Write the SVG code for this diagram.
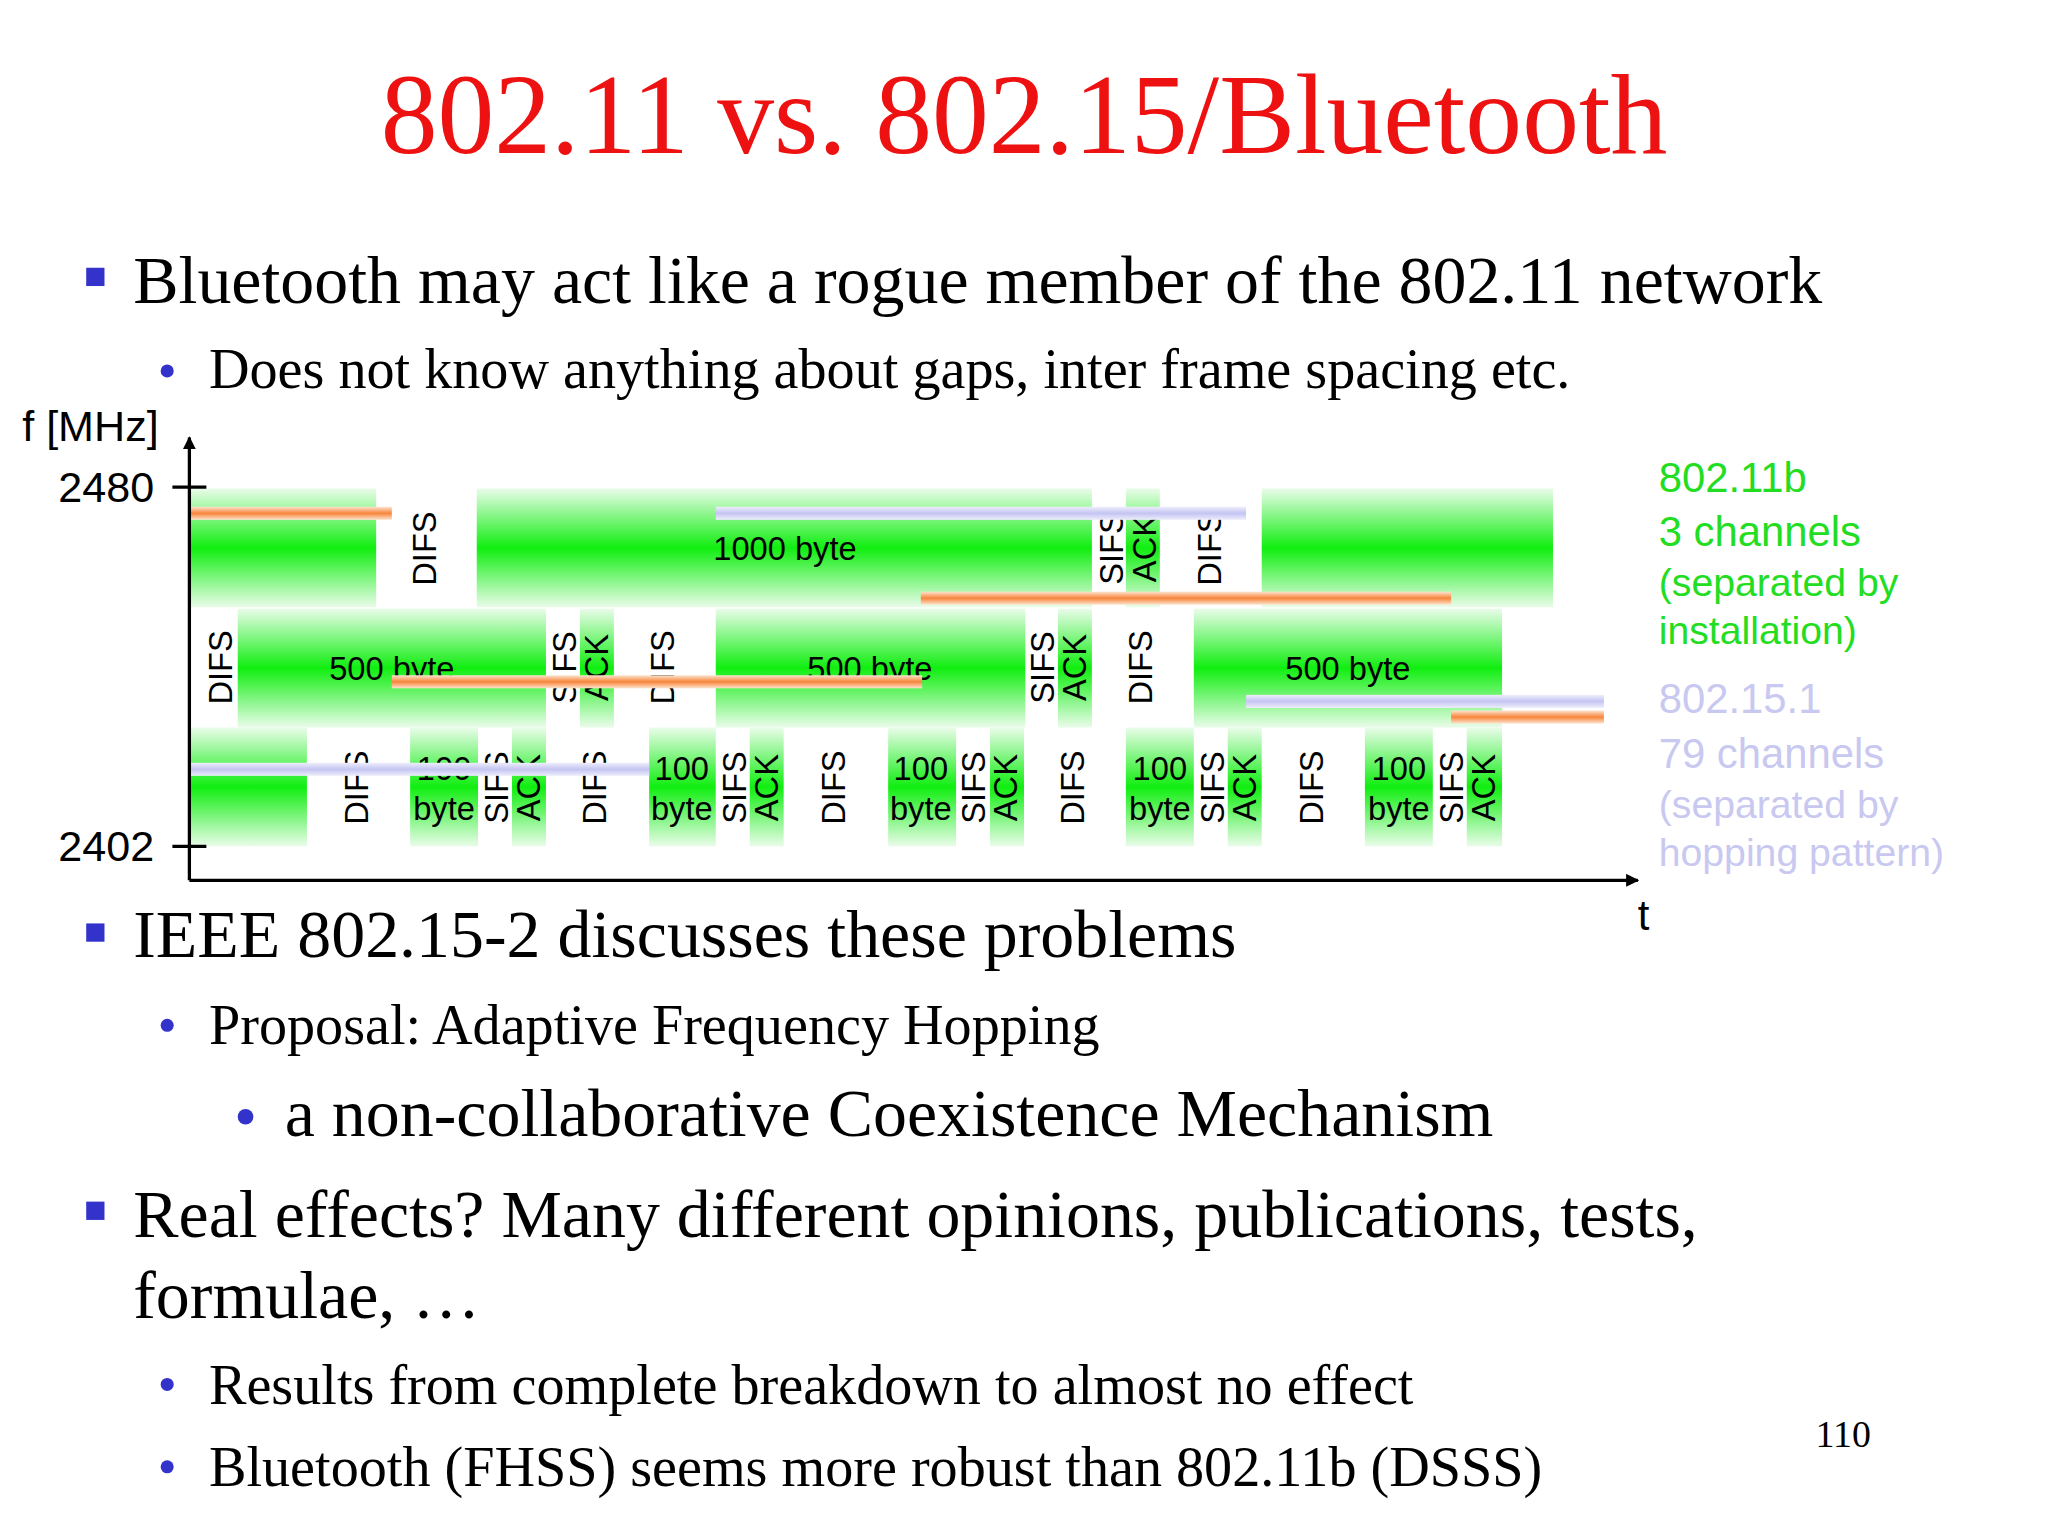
<svg xmlns="http://www.w3.org/2000/svg" width="2048" height="1536" viewBox="0 0 2048 1536">
<defs>
<linearGradient id="gg" x1="0" y1="0" x2="0" y2="1"><stop offset="0" stop-color="#eafcea"/><stop offset="0.5" stop-color="#10ee10"/><stop offset="1" stop-color="#eafcea"/></linearGradient>
<linearGradient id="og" x1="0" y1="0" x2="0" y2="1"><stop offset="0" stop-color="#fde4d0"/><stop offset="0.5" stop-color="#f7853a"/><stop offset="1" stop-color="#fde4d0"/></linearGradient>
<linearGradient id="lg" x1="0" y1="0" x2="0" y2="1"><stop offset="0" stop-color="#eeeefc"/><stop offset="0.5" stop-color="#c4c4f2"/><stop offset="1" stop-color="#eeeefc"/></linearGradient>
<marker id="ah" viewBox="0 0 10 10" refX="9" refY="5" markerWidth="10" markerHeight="10" markerUnits="userSpaceOnUse" orient="auto"><path d="M0,0 L10,5 L0,10 z" fill="#000"/></marker>
</defs>
<style>
.s{font-family:"Times New Roman","Liberation Serif",serif;fill:#000}
.a{font-family:"Liberation Sans",Arial,sans-serif;fill:#000}
.g{fill:url(#gg)}
.v{font-family:"Liberation Sans",Arial,sans-serif;font-size:25px;text-anchor:middle;dominant-baseline:central}
.l{font-family:"Liberation Sans",Arial,sans-serif;font-size:25px;text-anchor:middle}
.bl{fill:#3333cc}
</style>
<rect width="2048" height="1536" fill="#fff"/>
<g transform="scale(1.30612)">
<text x="784" y="117" text-anchor="middle" class="s" style="fill:#ee1111;font-size:87px">802.11 vs. 802.15/Bluetooth</text>
<g id="text" class="s">
<rect class="bl" x="66" y="205" width="14" height="14"/>
<text x="102" y="232" font-size="52">Bluetooth may act like a rogue member of the 802.11 network</text>
<circle class="bl" cx="128" cy="284" r="5"/>
<text x="160" y="297" font-size="43">Does not know anything about gaps, inter frame spacing etc.</text>
<rect class="bl" x="66" y="707" width="14" height="14"/>
<text x="102" y="733" font-size="52">IEEE 802.15-2 discusses these problems</text>
<circle class="bl" cx="128" cy="785" r="5"/>
<text x="160" y="799" font-size="43">Proposal: Adaptive Frequency Hopping</text>
<circle class="bl" cx="188" cy="855" r="6"/>
<text x="218" y="870" font-size="52">a non-collaborative Coexistence Mechanism</text>
<rect class="bl" x="66" y="920" width="14" height="14"/>
<text x="102" y="947" font-size="52">Real effects? Many different opinions, publications, tests,</text>
<text x="102" y="1009" font-size="52">formulae, …</text>
<circle class="bl" cx="128" cy="1060" r="5"/>
<text x="160" y="1075" font-size="43">Results from complete breakdown to almost no effect</text>
<circle class="bl" cx="128" cy="1123" r="5"/>
<text x="160" y="1138" font-size="43">Bluetooth (FHSS) seems more robust than 802.11b (DSSS)</text>
<text x="1390" y="1108" font-size="29">110</text>
</g>
<g id="blocks">
<rect class="g" x="145" y="374" width="143" height="91"/>
<rect class="g" x="365" y="374" width="471" height="91"/>
<rect class="g" x="862" y="374" width="26" height="91"/>
<rect class="g" x="966" y="374" width="223" height="91"/>
<rect class="g" x="182" y="466" width="236" height="91"/>
<rect class="g" x="444" y="466" width="26" height="91"/>
<rect class="g" x="548" y="466" width="237" height="91"/>
<rect class="g" x="810" y="466" width="26" height="91"/>
<rect class="g" x="914" y="466" width="236" height="91"/>
<rect class="g" x="145" y="557" width="90" height="91"/>
<rect class="g" x="314" y="557" width="52" height="91"/>
<rect class="g" x="392" y="557" width="26" height="91"/>
<rect class="g" x="497" y="557" width="51" height="91"/>
<rect class="g" x="574" y="557" width="26" height="91"/>
<rect class="g" x="680" y="557" width="52" height="91"/>
<rect class="g" x="758" y="557" width="26" height="91"/>
<rect class="g" x="862" y="557" width="52" height="91"/>
<rect class="g" x="940" y="557" width="26" height="91"/>
<rect class="g" x="1045" y="557" width="52" height="91"/>
<rect class="g" x="1123" y="557" width="27" height="91"/>
</g>
<g id="labels">
<text class="l" x="601" y="429">1000 byte</text>
<text class="l" x="300" y="521">500 byte</text>
<text class="l" x="666" y="521">500 byte</text>
<text class="l" x="1032" y="521">500 byte</text>
<text class="v" transform="translate(325,420) rotate(-90)">DIFS</text>
<text class="v" transform="translate(851,420) rotate(-90)">SIFS</text>
<text class="v" transform="translate(876,420) rotate(-90)">ACK</text>
<text class="v" transform="translate(926,420) rotate(-90)">DIFS</text>
<text class="v" transform="translate(169,511) rotate(-90)">DIFS</text>
<text class="v" transform="translate(432,511) rotate(-90)">SIFS</text>
<text class="v" transform="translate(457,511) rotate(-90)">ACK</text>
<text class="v" transform="translate(507,511) rotate(-90)">DIFS</text>
<text class="v" transform="translate(798,511) rotate(-90)">SIFS</text>
<text class="v" transform="translate(823,511) rotate(-90)">ACK</text>
<text class="v" transform="translate(873,511) rotate(-90)">DIFS</text>
<g id="b1"><text class="v" transform="translate(273,603) rotate(-90)">DIFS</text><text class="l" x="340" y="597">100</text><text class="l" x="340" y="628">byte</text><text class="v" transform="translate(380,603) rotate(-90)">SIFS</text><text class="v" transform="translate(405,603) rotate(-90)">ACK</text></g>
<use href="#b1" x="182"/>
<use href="#b1" x="365"/>
<use href="#b1" x="548"/>
<use href="#b1" x="731"/>
</g>
<g id="bars">
<rect x="145" y="388" width="155" height="10" fill="url(#og)"/>
<rect x="705" y="453" width="406" height="10" fill="url(#og)"/>
<rect x="300" y="517" width="406" height="10" fill="url(#og)"/>
<rect x="1111" y="544" width="117" height="10" fill="url(#og)"/>
<rect x="548" y="388" width="406" height="10" fill="url(#lg)"/>
<rect x="145" y="584" width="352" height="10" fill="url(#lg)"/>
<rect x="954" y="532" width="274" height="10" fill="url(#lg)"/>
</g>
<g id="axes" stroke="#000" stroke-width="2.5" fill="none">
<line x1="145" y1="674" x2="145" y2="335" marker-end="url(#ah)"/>
<line x1="145" y1="674" x2="1254" y2="674" marker-end="url(#ah)"/>
<line x1="132" y1="373" x2="158" y2="373"/>
<line x1="132" y1="648" x2="158" y2="648"/>
</g>
<text class="a" x="17" y="338" font-size="33">f [MHz]</text>
<text class="a" x="118" y="384" font-size="33" text-anchor="end">2480</text>
<text class="a" x="118" y="659" font-size="33" text-anchor="end">2402</text>
<text class="a" x="1254" y="712" font-size="32">t</text>
<g class="a" font-size="32">
<text x="1270" y="377" style="fill:#22dd22">802.11b</text>
<text x="1270" y="418" style="fill:#22dd22">3 channels</text>
<text x="1270" y="456" font-size="30" style="fill:#22dd22">(separated by</text>
<text x="1270" y="493" font-size="30" style="fill:#22dd22">installation)</text>
<text x="1270" y="546" style="fill:#c8c8f0">802.15.1</text>
<text x="1270" y="588" style="fill:#c8c8f0">79 channels</text>
<text x="1270" y="626" font-size="30" style="fill:#c8c8f0">(separated by</text>
<text x="1270" y="663" font-size="30" style="fill:#c8c8f0">hopping pattern)</text>
</g>
</g>
</svg>
